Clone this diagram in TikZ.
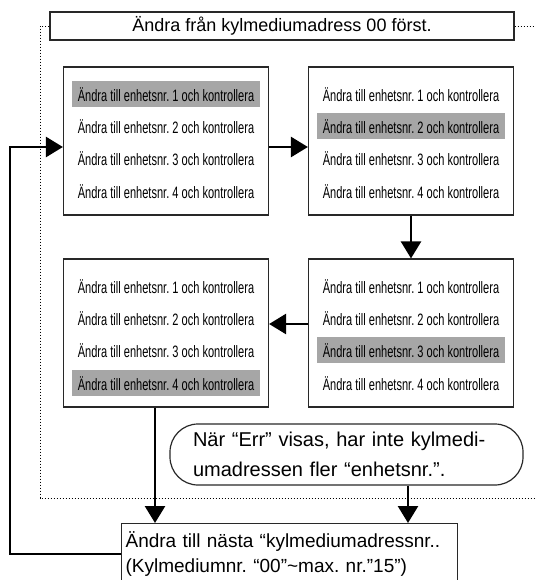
\documentclass[tikz,border=0pt]{standalone}
\usepackage{fontspec}
\setmainfont{Liberation Sans}
\newfontfamily\rowfont[FakeStretch=0.67]{Liberation Sans}
\usetikzlibrary{arrows.meta,positioning}

\definecolor{hlgray}{RGB}{166,166,166}
\definecolor{edgegray}{RGB}{40,40,40}

\tikzset{
  unitbox/.style={draw=edgegray, line width=1.2pt, minimum width=205pt, minimum height=148pt, inner sep=0pt},
  rowtxt/.style={font=\rowfont\fontsize{16.5}{18}\selectfont, inner sep=0pt, minimum width=188pt, minimum height=26pt},
  hlrow/.style={rowtxt, fill=hlgray},
  titlebox/.style={draw=edgegray, line width=1.2pt, fill=white, minimum width=464pt, minimum height=28pt, inner sep=0pt, font=\fontsize{18}{20}\selectfont},
  notebox/.style={draw=edgegray, line width=1.2pt, rounded corners=28pt, minimum width=353pt, minimum height=61pt, inner xsep=23pt, text width=307pt, align=left, font=\fontsize{20}{30}\selectfont},
  nextbox/.style={draw=edgegray, line width=1.2pt, anchor=north west, minimum width=336pt, minimum height=61pt, inner xsep=4pt, text width=328pt, align=left, font=\fontsize{19}{25}\selectfont},
  flow/.style={line width=2.6pt, -{Triangle[length=17pt,width=20pt]}},
  dotline/.style={line width=0.8pt, dash pattern=on 1.5pt off 1.5pt},
}

% rows of one unit box, #2 = highlighted row
\newcommand{\unitrows}[2]{%
  \foreach \i/\dy in {1/28,2/60,3/92,4/125}{
    \ifnum\i=#2\relax\def\rowstyle{hlrow}\else\def\rowstyle{rowtxt}\fi
    \node[\rowstyle] (#1r\i) at ([yshift=-\dy pt]#1.north) {Ändra till enhetsnr. \i\ och kontrollera};
  }}

\begin{document}
\frenchspacing
\begin{tikzpicture}[x=1pt,y=-1pt]
\useasboundingbox (0,0) rectangle (535,580);
\clip (0,0) rectangle (535,580);

% dotted frame round the loop
\coordinate (dotsw) at (40,498);
\coordinate (dotse) at (545,498);
\coordinate (dotne) at (545,26);
\node[titlebox] (top) at (282,26) {Ändra från kylmediumadress 00 först.};
\draw[dotline] (top.west) -| (dotsw) -- (dotse);
\draw[dotline] (top.east) -- (dotne);

% unit boxes
\node[unitbox] (b1) at (166,141) {};
\unitrows{b1}{1}
\node[unitbox] (b2) at (411,141) {};
\unitrows{b2}{2}
\node[unitbox] (b3) at (166,333) {};
\unitrows{b3}{4}
\node[unitbox] (b4) at (411,333) {};
\unitrows{b4}{3}

% note and next address
\node[notebox] (note) at (346.5,454.5) {När “Err” visas, har inte kylmedi-\\umadressen fler “enhetsnr.”.};
\node[nextbox] (next) at (121,523) {Ändra till nästa “kylmediumadressnr..\\(Kylmediumnr. “00”\textasciitilde max. nr.”15”)};

% arrows
\draw[flow] ([yshift=-6pt]b1.east) -- ([yshift=-6pt]b2.west);
\draw[flow] (b2.south) -- (b4.north);
\draw[flow] ([yshift=9pt]b4.west) -- ([yshift=9pt]b3.east);
\draw[flow] ([xshift=-11pt]b3.south) -- ([xshift=-11pt]b3.south |- next.north);
\draw[flow] ([xshift=61.5pt]note.south) -- ([xshift=61.5pt]note.south |- next.north);

% back to the first unit
\coordinate (back) at (10,147);
\draw[flow] (next.west) -| (back) -- (b1.west |- back);

\end{tikzpicture}
\end{document}
